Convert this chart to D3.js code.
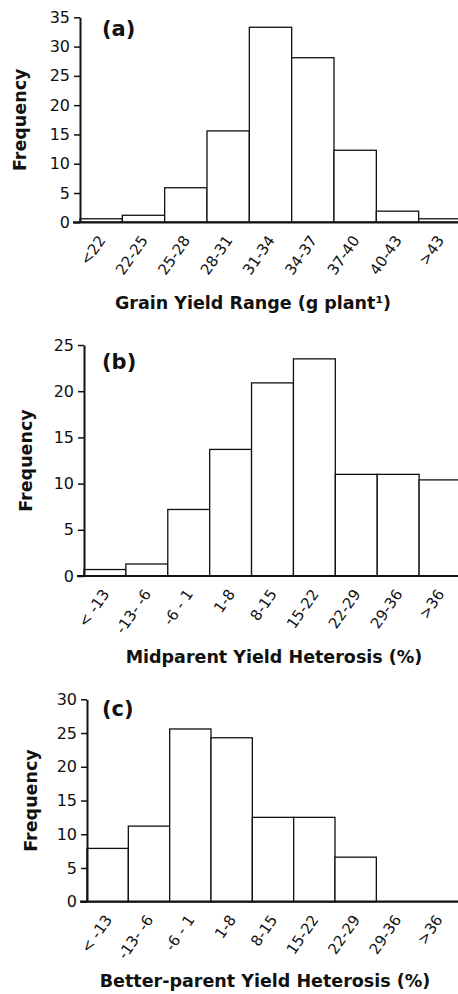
<!DOCTYPE html>
<html>
<head>
<meta charset="utf-8">
<script src="https://cdn.jsdelivr.net/npm/d3@7"></script>
<style>
  body { margin: 0; background: #fff; }
  text { font-family: "DejaVu Sans", Verdana, sans-serif; fill: #111; }
  .axis path, .axis line { stroke: #111; }
  .bar { fill: #fff; stroke: #111; stroke-width: 1.3; }
</style>
</head>
<body>
<div id="chart"></div>
<script>
// data
const grainBins = ["<22", "22-25", "25-28", "28-31", "31-34", "34-37", "37-40", "40-43", ">43"];
const grainFreq = [0.6, 1.2, 5.9, 15.6, 33.3, 28.1, 12.3, 1.9, 0.6];

const heterosisBins = ["< -13", "-13- -6", "-6 - 1", "1-8", "8-15", "15-22", "22-29", "29-36", ">36"];
const midparentFreq = [0.7, 1.3, 7.2, 13.7, 20.9, 23.5, 11.0, 11.0, 10.4];
const betterParentFreq = [7.9, 11.2, 25.6, 24.3, 12.5, 12.5, 6.6, 0, 0];

const yTicksA = [0, 5, 10, 15, 20, 25, 30, 35];
const yTicksB = [0, 5, 10, 15, 20, 25];
const yTicksC = [0, 5, 10, 15, 20, 25, 30];

const W = 458, H = 994;

const svg = d3.select("#chart").append("svg")
    .attr("width", W)
    .attr("height", H);

const panels = [
    {tag: "(a)", tagY: 36, bins: grainBins, freq: grainFreq, ticks: yTicksA, yMax: 35,
     left: 80, right: 461, top: 17.3, bottom: 222.3,
     title: "Grain Yield Range (g plant\u00B9)", titleX: 253, titleY: 309, freqX: 19},
    {tag: "(b)", tagY: 369, bins: heterosisBins, freq: midparentFreq, ticks: yTicksB, yMax: 25,
     left: 84, right: 461, top: 345, bottom: 576,
     title: "Midparent Yield Heterosis (%)", titleX: 274, titleY: 663, freqX: 25},
    {tag: "(c)", tagY: 716, bins: heterosisBins, freq: betterParentFreq, ticks: yTicksC, yMax: 30,
     left: 87, right: 459, top: 699.3, bottom: 901.7,
     title: "Better-parent Yield Heterosis (%)", titleX: 265, titleY: 987, freqX: 30}
];

panels.forEach(function (p) {
    let g = svg.append("g");

    let x = d3.scaleBand()
        .domain(p.bins)
        .range([p.left, p.right])
        .padding(0);

    let y = d3.scaleLinear()
        .domain([0, p.yMax])
        .range([p.bottom, p.top]);

    // bars (zero-height bins are not drawn)
    g.selectAll(".bar")
        .data(p.bins.map((b, i) => ({bin: b, v: p.freq[i]})).filter(d => d.v > 0))
        .enter().append("rect")
        .attr("class", "bar")
        .attr("x", d => x(d.bin))
        .attr("y", d => y(d.v))
        .attr("width", x.bandwidth())
        .attr("height", d => y(0) - y(d.v));

    // y axis
    let ya = g.append("g")
        .attr("class", "axis")
        .attr("transform", "translate(" + p.left + ",0)")
        .call(d3.axisLeft(y).tickValues(p.ticks).tickSize(6).tickSizeOuter(0).tickPadding(4));
    ya.select(".domain").attr("stroke-width", 2);
    ya.selectAll(".tick line").attr("stroke-width", 1.5);
    ya.selectAll("text").style("font-size", "16px");

    // x axis, runs out to the page edge
    let xa = g.append("g")
        .attr("class", "axis")
        .attr("transform", "translate(0," + p.bottom + ")")
        .call(d3.axisBottom(x).tickSize(0).tickSizeOuter(0));
    xa.select(".domain")
        .attr("d", "M" + (p.left - 7) + ",0H" + W)
        .attr("stroke-width", 2.2);
    xa.selectAll("text")
        .style("font-size", "15px")
        .attr("text-anchor", "end")
        .attr("x", 0).attr("y", 0).attr("dy", 0)
        .attr("transform", "translate(5,18) rotate(-55)");

    // panel tag
    g.append("text")
        .attr("x", 102).attr("y", p.tagY)
        .style("font-size", "21px").style("font-weight", "bold")
        .text(p.tag);

    // axis titles
    g.append("text")
        .attr("x", p.titleX).attr("y", p.titleY)
        .attr("text-anchor", "middle")
        .style("font-size", "17.5px").style("font-weight", "bold")
        .text(p.title);

    g.append("text")
        .attr("transform", "translate(" + (p.freqX + 7) + "," + ((p.top + p.bottom) / 2) + ") rotate(-90)")
        .attr("text-anchor", "middle")
        .style("font-size", "17.5px").style("font-weight", "bold")
        .text("Frequency");
});
</script>
</body>
</html>
